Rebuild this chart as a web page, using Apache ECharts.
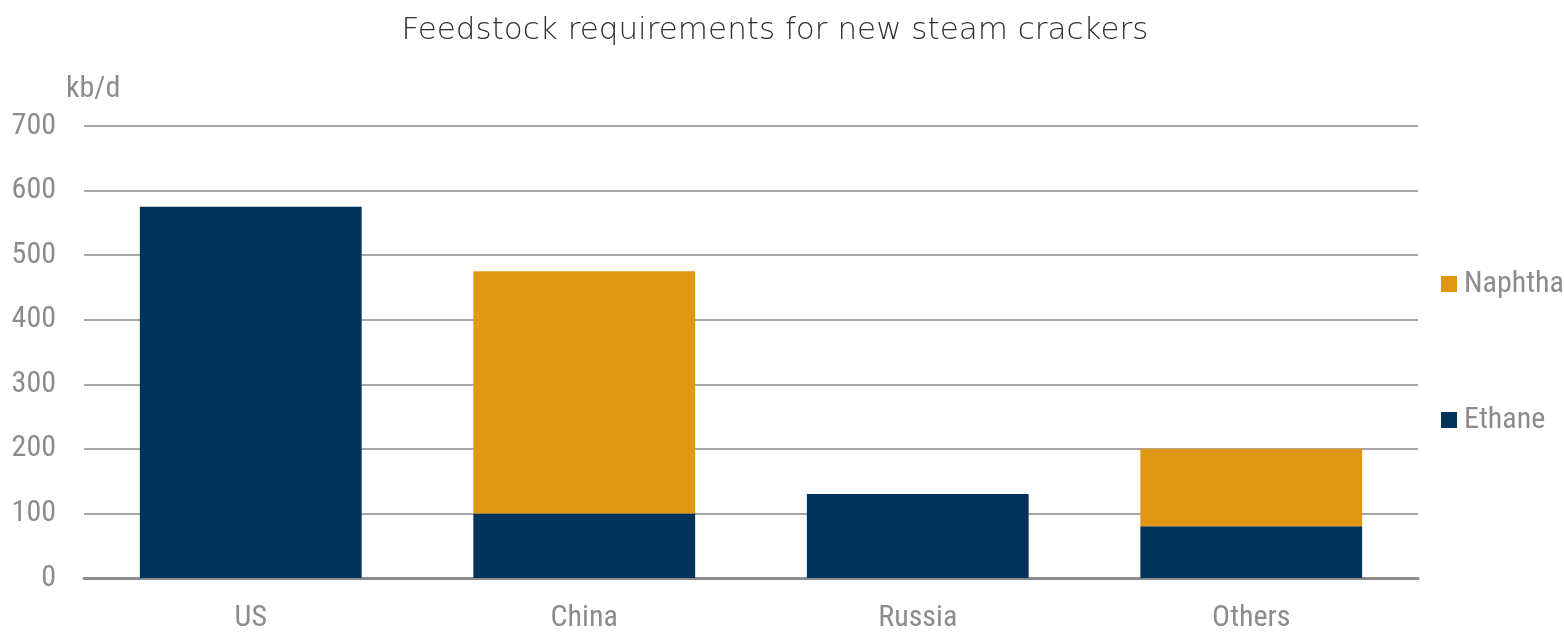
<!DOCTYPE html>
<html>
<head>
<meta charset="utf-8">
<script src="https://cdn.jsdelivr.net/npm/echarts@6/dist/echarts.min.js"></script>
<style>
    html, body { margin: 0; padding: 0; background: #fff; }
    #main { width: 1564px; height: 633px; }
</style>
</head>
<body>
<div id="main"></div>
<script>
    'use strict';
    var categories = ['US', 'China', 'Russia', 'Others'];
    var ethane = [575, 100, 130, 80];
    var naphtha = [0, 375, 0, 120];
    var yTicks = { min: 0, max: 700, interval: 100 };

    var narrow = '"Liberation Sans Narrow", "Arial Narrow", "Roboto Condensed", "Liberation Sans", sans-serif';
    var gray = '#8c8c8c';

    var myChart = echarts.init(document.getElementById('main'));
    var option = {
        animation: false,
        title: {
            text: 'Feedstock requirements for new steam crackers',
            left: 770,
            textAlign: 'center',
            top: 10,
            textStyle: { fontFamily: '"DejaVu Sans", sans-serif', fontWeight: 200, fontSize: 31, color: '#2e2e2e' }
        },
        legend: {
            orient: 'vertical',
            left: 1436,
            top: 264,
            itemWidth: 16,
            itemHeight: 16,
            itemGap: 106,
            icon: 'rect',
            data: ['Naphtha', 'Ethane'],
            textStyle: { fontFamily: narrow, fontSize: 30, color: gray, padding: [0, 0, 0, 2] }
        },
        grid: { left: 84, right: 146, top: 126, bottom: 54, containLabel: false },
        xAxis: {
            type: 'category',
            data: categories,
            axisTick: { show: false },
            axisLine: { lineStyle: { color: gray, width: 3 } },
            axisLabel: { fontFamily: narrow, fontSize: 30, color: gray, margin: 25 }
        },
        yAxis: {
            type: 'value',
            min: yTicks.min,
            max: yTicks.max,
            interval: yTicks.interval,
            name: 'kb/d',
            nameLocation: 'end',
            nameGap: 22,
            nameTextStyle: { fontFamily: narrow, fontSize: 30, color: gray, align: 'left', padding: [0, 0, 0, -18] },
            axisLine: { show: false },
            axisTick: { show: false },
            axisLabel: { fontFamily: narrow, fontSize: 30, color: gray, margin: 28 },
            splitLine: { lineStyle: { color: '#a6a6a6', width: 2 } }
        },
        series: [
            {
                name: 'Ethane',
                type: 'bar',
                stack: 'total',
                barWidth: '66.5%',
                itemStyle: { color: '#003359' },
                data: ethane
            },
            {
                name: 'Naphtha',
                type: 'bar',
                stack: 'total',
                barWidth: '66.5%',
                itemStyle: { color: '#e09814' },
                data: naphtha
            }
        ]
    };
    myChart.setOption(option);
</script>
</body>
</html>
